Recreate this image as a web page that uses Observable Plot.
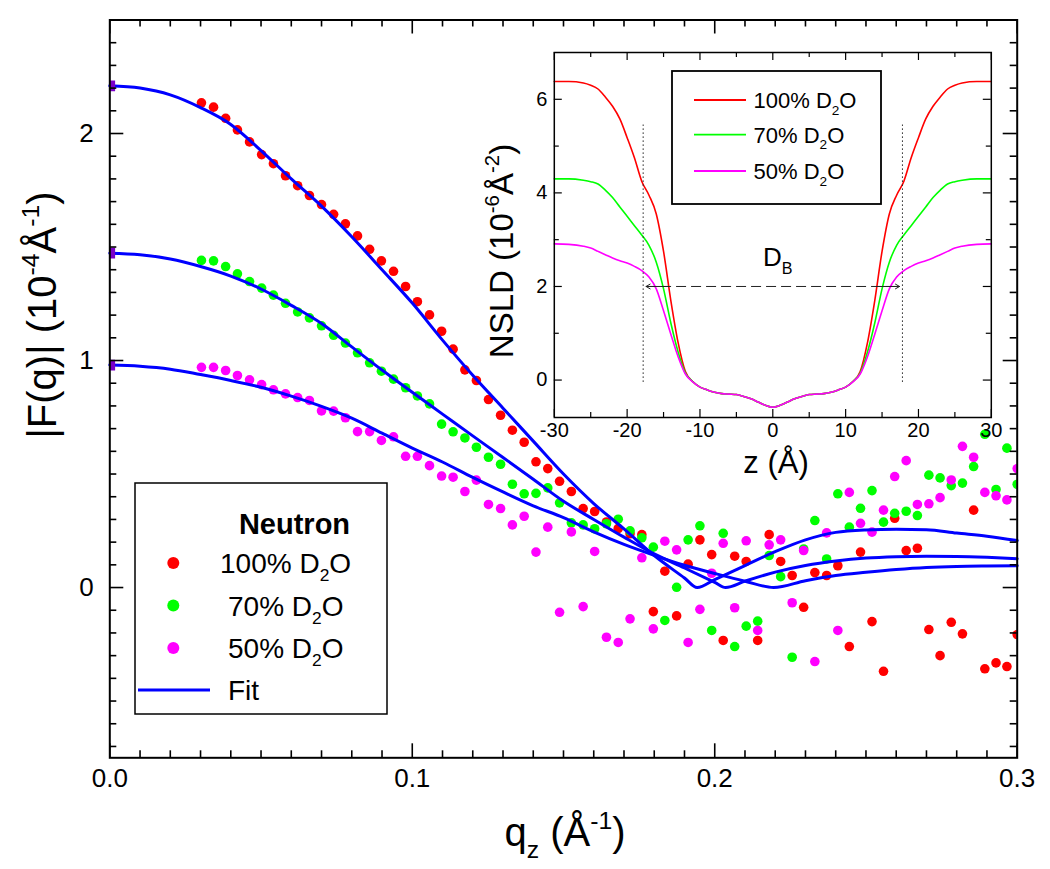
<!DOCTYPE html>
<html><head><meta charset="utf-8">
<script src="https://cdn.jsdelivr.net/npm/d3@7"></script>
<script src="https://cdn.jsdelivr.net/npm/@observablehq/plot@0.6"></script>
<style>
body{margin:0;background:#fff;}
#wrap{position:relative;width:1050px;height:869px;overflow:hidden;}
#wrap svg{position:absolute;left:0;top:0;}
</style></head><body><div id="wrap"></div>
<script>
const FONT = "'Liberation Sans', Arial, Helvetica, sans-serif";
const W = 1050, H = 869;

// ---------- main panel data ----------
const qValues = [0.0303,0.0343,0.0383,0.0422,0.0462,0.0502,0.0541,0.0581,0.0621,0.0660,
0.0700,0.0740,0.0779,0.0819,0.0859,0.0898,0.0938,0.0978,0.1017,0.1057,
0.1097,0.1135,0.1174,0.1212,0.1252,0.1292,0.1331,0.1370,0.1409,0.1448,
0.1487,0.1526,0.1565,0.1603,0.1642,0.1681,0.1720,0.1759,0.1797,0.1835,
0.1874,0.1912,0.1951,0.1990,0.2028,0.2066,0.2104,0.2142,0.2180,0.2218,
0.2256,0.2294,0.2331,0.2370,0.2407,0.2445,0.2482,0.2520,0.2558,0.2595,
0.2633,0.2670,0.2708,0.2745,0.2782,0.2819,0.2856,0.2893,0.2930,0.2966,0.3000];
const f100 = [2.135,2.116,2.067,2.016,1.963,1.907,1.867,1.814,1.770,1.727,
1.687,1.644,1.602,1.549,1.490,1.439,1.393,1.326,1.259,1.201,
1.129,1.050,0.959,0.912,0.828,0.759,0.693,0.640,0.554,0.524,
0.468,0.423,0.348,0.335,0.289,0.260,0.237,0.233,-0.106,0.072,
-0.125,0.103,0.210,0.145,-0.233,0.138,0.115,-0.233,0.233,0.115,
0.053,-0.087,0.066,0.053,0.096,-0.260,0.156,-0.150,-0.369,0.305,
0.163,0.173,-0.185,-0.300,-0.153,-0.204,0.341,-0.358,-0.332,-0.348,-0.207];
const f70 = [1.441,1.439,1.414,1.382,1.348,1.319,1.288,1.252,1.214,1.188,
1.153,1.111,1.077,1.034,0.990,0.953,0.918,0.880,0.844,0.809,
0.720,0.686,0.659,0.618,0.574,0.543,0.455,0.413,0.415,0.439,
0.373,0.285,0.276,0.259,0.281,0.301,0.250,0.219,0.178,-0.145,
0.001,0.210,0.272,-0.189,0.239,-0.260,-0.170,-0.148,0.141,0.048,
-0.307,0.170,0.295,0.126,0.413,0.266,0.349,0.427,0.288,0.327,
0.336,0.317,0.495,0.483,0.449,0.460,0.533,0.675,0.432,0.614,0.455];
const f50 = [0.970,0.970,0.956,0.934,0.915,0.894,0.871,0.853,0.837,0.824,
0.778,0.777,0.748,0.687,0.687,0.648,0.664,0.578,0.578,0.537,
0.491,0.486,0.423,0.473,0.366,0.348,0.276,0.314,0.156,0.266,
-0.109,0.245,-0.084,0.159,-0.219,-0.242,-0.138,0.131,-0.182,0.204,
0.166,-0.242,-0.096,0.063,0.195,-0.089,0.206,-0.189,0.188,0.210,
-0.067,0.163,-0.326,0.241,-0.189,0.419,0.283,0.244,0.341,0.489,
0.559,0.366,0.369,0.396,0.474,0.622,0.574,0.419,0.404,0.386,0.524];

const fitQ100 = [0,0.01,0.02,0.03,0.04,0.05,0.06,0.07,0.08,0.09,0.10,0.11,0.12,0.13,0.14,0.15,0.16,0.17,0.18,0.19,0.1942,0.20,0.21,0.22,0.23,0.24,0.25,0.26,0.27,0.28,0.29,0.30];
const fitF100 = [2.21,2.20,2.17,2.114,2.04,1.925,1.80,1.68,1.545,1.40,1.253,1.09,0.935,0.79,0.645,0.50,0.37,0.258,0.141,0.042,0.0,0.035,0.097,0.158,0.21,0.243,0.254,0.257,0.255,0.24,0.226,0.207];
const fitQ70 = [0,0.01,0.02,0.03,0.04,0.05,0.06,0.07,0.08,0.09,0.10,0.11,0.12,0.13,0.14,0.15,0.16,0.17,0.18,0.19,0.20,0.2036,0.21,0.22,0.23,0.24,0.25,0.26,0.27,0.28,0.29,0.30];
const fitF70 = [1.473,1.466,1.447,1.414,1.372,1.315,1.243,1.163,1.06,0.958,0.86,0.764,0.668,0.573,0.477,0.38,0.30,0.222,0.148,0.086,0.023,0.0,0.028,0.068,0.097,0.117,0.13,0.136,0.138,0.137,0.133,0.127];
const fitQ50 = [0,0.01,0.02,0.03,0.04,0.05,0.06,0.07,0.08,0.09,0.10,0.11,0.12,0.13,0.14,0.15,0.16,0.17,0.18,0.19,0.20,0.21,0.2195,0.23,0.24,0.25,0.26,0.27,0.28,0.29,0.30];
const fitF50 = [0.98,0.975,0.962,0.938,0.912,0.882,0.843,0.798,0.746,0.68,0.614,0.553,0.485,0.421,0.36,0.308,0.245,0.19,0.142,0.098,0.062,0.028,0.0,0.03,0.053,0.067,0.079,0.088,0.093,0.095,0.096];

const seriesNames = ["100% D2O", "70% D2O", "50% D2O"];
const seriesColors = ["#ff0000", "#00ff00", "#ff00ff"];
const fitColor = "#0000ff";
const startColor = "#7a00c8";
const xTickLabels = [0.0, 0.1, 0.2, 0.3];
const yTickLabels = [0, 1, 2];

// ---------- inset data ----------
const zGrid = [-30,-28,-26,-25,-24,-23,-22,-21,-20,-19,-18,-17,-16,-15,-14,-13,-12,-11,-10,-9,-8,-7,-6,-5,-4,-3,-2,-1,0,
1,2,3,4,5,6,7,8,9,10,11,12,13,14,15,16,17,18,19,20,21,22,23,24,25,26,28,30];
const nsld100 = [6.38,6.38,6.35,6.30,6.22,6.05,5.85,5.58,5.18,4.75,4.25,3.95,3.55,2.75,1.70,0.80,0.18,-0.03,-0.15,-0.21,-0.26,-0.29,-0.30,-0.31,-0.35,-0.40,-0.47,-0.54,-0.58,
-0.54,-0.47,-0.40,-0.35,-0.31,-0.30,-0.29,-0.26,-0.21,-0.15,-0.03,0.18,0.80,1.70,2.75,3.55,3.95,4.25,4.75,5.18,5.58,5.85,6.05,6.22,6.30,6.35,6.38,6.38];
const nsld70 = [4.30,4.30,4.27,4.24,4.19,4.06,3.90,3.70,3.50,3.30,3.10,2.88,2.52,1.95,1.22,0.60,0.15,-0.03,-0.15,-0.21,-0.26,-0.29,-0.30,-0.31,-0.35,-0.40,-0.47,-0.54,-0.58,
-0.54,-0.47,-0.40,-0.35,-0.31,-0.30,-0.29,-0.26,-0.21,-0.15,-0.03,0.15,0.60,1.22,1.95,2.52,2.88,3.10,3.30,3.50,3.70,3.90,4.06,4.19,4.24,4.27,4.30,4.30];
const nsld50 = [2.91,2.90,2.86,2.82,2.75,2.68,2.61,2.55,2.50,2.43,2.34,2.20,1.95,1.48,0.98,0.50,0.13,-0.04,-0.15,-0.21,-0.26,-0.29,-0.30,-0.31,-0.35,-0.40,-0.47,-0.54,-0.58,
-0.54,-0.47,-0.40,-0.35,-0.31,-0.30,-0.29,-0.26,-0.21,-0.15,-0.04,0.13,0.50,0.98,1.48,1.95,2.20,2.34,2.43,2.50,2.55,2.61,2.68,2.75,2.82,2.86,2.90,2.91];
const insetXLabels = [-30,-20,-10,0,10,20,30];
const insetYLabels = [0,2,4,6];
const dbEdges = [-17.8, 17.8];
const dbSpan = [-0.05, 5.45];
const dbArrow = [-17.4, 17.4];
const dbLevel = 2;

// ---------- helpers ----------
const tick = (vals, k, side, len, fw, fh, sw) => {
  const o = {stroke: "#000", strokeWidth: sw};
  if (k === "x") return Plot.tickX(vals, {x: d => d, ...o, ...(side === "bottom" ? {insetTop: fh - len} : {insetBottom: fh - len})});
  return Plot.tickY(vals, {y: d => d, ...o, ...(side === "left" ? {insetRight: fw - len} : {insetLeft: fw - len})});
};
const allSides = (xMaj, xMin, yMaj, yMin, majL, minL, fw, fh, sw) => [
  tick(xMaj, "x", "bottom", majL, fw, fh, sw), tick(xMin, "x", "bottom", minL, fw, fh, sw),
  tick(xMaj, "x", "top", majL, fw, fh, sw), tick(xMin, "x", "top", minL, fw, fh, sw),
  tick(yMaj, "y", "left", majL, fw, fh, sw), tick(yMin, "y", "left", minL, fw, fh, sw),
  tick(yMaj, "y", "right", majL, fw, fh, sw), tick(yMin, "y", "right", minL, fw, fh, sw)
];
function rich(parent, {x, y, size, anchor = "start", weight = "normal", rotate = 0, parts, fill = "#000"}) {
  const t = parent.append("text").attr("font-size", size).attr("text-anchor", anchor)
    .attr("font-weight", weight).attr("fill", fill).attr("font-family", FONT);
  if (rotate) t.attr("transform", `translate(${x},${y}) rotate(${rotate})`);
  else t.attr("x", x).attr("y", y);
  let shift = 0;
  for (const p of parts) {
    const s = (p.sub || p.sup) ? size * 0.62 : size;
    const target = p.sub ? size * 0.3 : p.sup ? -size * 0.42 : 0;
    t.append("tspan").attr("font-size", s).attr("dy", target - shift).text(p.t);
    shift = target;
  }
  return t;
}
const d2o = (pct) => [{t: pct + " D"}, {t: "2", sub: true}, {t: "O"}];

// ---------- main plot ----------
const fr = {left: 109.3, right: 1016.7, top: 19.5, bottom: 757.3};
const fw = fr.right - fr.left, fh = fr.bottom - fr.top;
const xMinor = d3.range(0, 31).map(i => i / 100).filter(v => !xTickLabels.some(t => Math.abs(t - v) < 1e-9));
const yMinor = d3.range(-7, 25).map(i => i / 10).filter(v => !yTickLabels.some(t => Math.abs(t - v) < 1e-9));

const pts = [f100, f70, f50].map(arr => qValues.map((q, i) => ({q, v: arr[i]})));
const fits = [[fitQ100, fitF100], [fitQ70, fitF70], [fitQ50, fitF50]].map(([qs, fs]) => qs.map((q, i) => ({q, v: fs[i]})));
const starts = fits.map(f => f[0]);

const main = Plot.plot({
  width: W, height: H,
  marginLeft: fr.left, marginRight: W - fr.right, marginTop: fr.top, marginBottom: H - fr.bottom,
  x: {domain: [0, 0.3], axis: null},
  y: {domain: [-0.75, 2.5], axis: null},
  style: {fontFamily: FONT, background: "white", color: "#000"},
  marks: [
    ...pts.map((p, i) => Plot.dot(p, {x: "q", y: "v", r: 4.8, fill: seriesColors[i], clip: true})),
    ...fits.map(f => Plot.line(f, {x: "q", y: "v", stroke: fitColor, strokeWidth: 3, curve: "monotone-x"})),
    Plot.dot(starts, {x: "q", y: "v", symbol: "square", r: 6, fill: startColor, clip: true}),
    ...allSides(xTickLabels, xMinor, yTickLabels, yMinor, 14, 7, fw, fh, 1.6),
    Plot.frame({stroke: "#000", strokeWidth: 2}),
    Plot.text(xTickLabels, {x: d => d, frameAnchor: "bottom", dy: 29, text: d => d.toFixed(1), fontSize: 26}),
    Plot.text(yTickLabels, {y: d => d, frameAnchor: "left", dx: -16, textAnchor: "end", text: d => String(d), fontSize: 26})
  ]
});

const ms = d3.select(main);
// axis titles
rich(ms, {x: 565, y: 846, size: 40, anchor: "middle", parts: [{t: "q"}, {t: "z", sub: true}, {t: " (Å"}, {t: "-1", sup: true}, {t: ")"}]});
rich(ms, {x: 56, y: 315, size: 40, anchor: "middle", rotate: -90, parts: [{t: "|F(q)| (10"}, {t: "-4", sup: true}, {t: "Å"}, {t: "-1", sup: true}, {t: ")"}]});
// legend
const lg = ms.append("g");
lg.append("rect").attr("x", 135).attr("y", 483).attr("width", 252).attr("height", 231)
  .attr("fill", "white").attr("stroke", "#000").attr("stroke-width", 1.5);
rich(lg, {x: 294.5, y: 534, size: 29, anchor: "middle", weight: "bold", parts: [{t: "Neutron"}]});
const rowY = [563, 605.5, 648];
const textX = [220, 228, 228];
seriesNames.forEach((name, i) => {
  lg.append("circle").attr("cx", 173.3).attr("cy", rowY[i]).attr("r", 6).attr("fill", seriesColors[i]);
  rich(lg, {x: textX[i], y: rowY[i] + 10, size: 28, parts: d2o(name.split(" ")[0])});
});
lg.append("line").attr("x1", 138).attr("x2", 210).attr("y1", 690).attr("y2", 690).attr("stroke", fitColor).attr("stroke-width", 3);
rich(lg, {x: 228, y: 700, size: 28, parts: [{t: "Fit"}]});

// ---------- inset ----------
const ifr = {left: 553.8, right: 990.8, top: 52, bottom: 417};
const ifw = ifr.right - ifr.left, ifh = ifr.bottom - ifr.top;
const nsld = [nsld100, nsld70, nsld50].map(arr => zGrid.map((z, i) => ({z, v: arr[i]})));

const inset = Plot.plot({
  width: W, height: H,
  marginLeft: ifr.left, marginRight: W - ifr.right, marginTop: ifr.top, marginBottom: H - ifr.bottom,
  x: {domain: [-30, 30], axis: null},
  y: {domain: [-0.8, 7], axis: null},
  style: {fontFamily: FONT, background: "transparent", color: "#000"},
  marks: [
    ...nsld.map((d, i) => Plot.line(d, {x: "z", y: "v", stroke: seriesColors[i], strokeWidth: 1.6, curve: "monotone-x"})),
    Plot.ruleX(dbEdges, {x: d => d, y1: dbSpan[0], y2: dbSpan[1], stroke: "#222", strokeWidth: 1, strokeDasharray: "1.5,2.5"}),
    Plot.link([0], {x1: dbArrow[0], x2: dbArrow[1], y1: dbLevel, y2: dbLevel, stroke: "#222", strokeWidth: 1, strokeDasharray: "10,5"}),
    Plot.arrow([0, 1], {x1: i => dbArrow[i] * 0.82, x2: i => dbArrow[i], y1: dbLevel, y2: dbLevel, stroke: "#222", strokeWidth: 1, headLength: 7}),
    ...allSides(insetXLabels, [-25,-15,-5,5,15,25], insetYLabels, [1,3,5], 8, 5, ifw, ifh, 1.2),
    Plot.frame({stroke: "#000", strokeWidth: 1.5}),
    Plot.text(insetXLabels, {x: d => d, frameAnchor: "bottom", dy: 19, text: d => String(d), fontSize: 20}),
    Plot.text(insetYLabels, {y: d => d, frameAnchor: "left", dx: -7, textAnchor: "end", text: d => String(d), fontSize: 20})
  ]
});
const is = d3.select(inset);
rich(is, {x: 776, y: 473, size: 31, anchor: "middle", parts: [{t: "z (Å)"}]});
rich(is, {x: 513, y: 251, size: 33, anchor: "middle", rotate: -90, parts: [{t: "NSLD (10"}, {t: "-6", sup: true}, {t: "Å"}, {t: "-2", sup: true}, {t: ")"}]});
rich(is, {x: 763, y: 266, size: 26, parts: [{t: "D"}, {t: "B", sub: true}]});
const il = is.append("g");
il.append("rect").attr("x", 672).attr("y", 71).attr("width", 209).attr("height", 133)
  .attr("fill", "white").attr("stroke", "#000").attr("stroke-width", 1.8);
const iRowY = [100, 134.6, 171];
seriesNames.forEach((name, i) => {
  il.append("line").attr("x1", 694).attr("x2", 746).attr("y1", iRowY[i]).attr("y2", iRowY[i])
    .attr("stroke", seriesColors[i]).attr("stroke-width", 1.8);
  rich(il, {x: 753.5, y: iRowY[i] + 8, size: 22, parts: d2o(name.split(" ")[0])});
});

const wrap = document.getElementById("wrap");
wrap.appendChild(main);
wrap.appendChild(inset);
</script>
</body></html>
